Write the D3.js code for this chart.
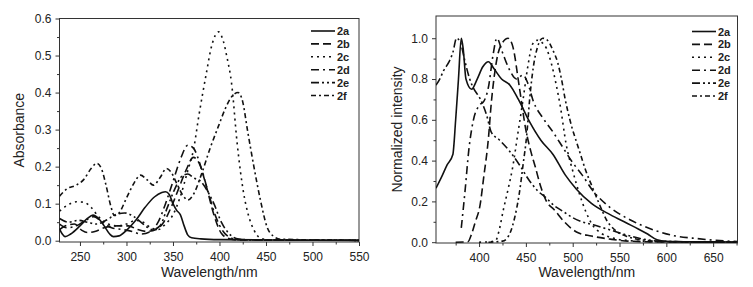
<!DOCTYPE html>
<html>
<head>
<meta charset="utf-8">
<script src="https://cdn.jsdelivr.net/npm/d3@7"></script>
<style>
  body { margin: 0; background: #fff; }
  text { font-family: Arial, "Liberation Sans", sans-serif; fill: #222; }
</style>
</head>
<body>
<div id="chart"></div>
<script>
// series names and line styles (legend order)
var seriesNames = ['2a', '2b', '2c', '2d', '2e', '2f'];
var dashes = ['none', '8,4', '2,4', '8,4,2,4', '8,3,2,3,2,3', '5,3,2,3'];

// absorption spectra [wavelength nm, absorbance]
var abs2a = [[228,0.032],[231,0.018],[234,0.011],[240,0.018],[250,0.04],[258,0.06],[264,0.069],[270,0.06],[276,0.04],[282,0.018],[286,0.011],[292,0.013],[300,0.028],[310,0.055],[320,0.09],[330,0.118],[338,0.13],[342,0.132],[346,0.125],[350,0.1],[354,0.082],[358,0.07],[362,0.04],[366,0.015],[370,0.008],[380,0.005],[400,0.003],[450,0.002],[550,0.001]];
var abs2b = [[228,0.03],[234,0.04],[244,0.045],[252,0.028],[258,0.022],[266,0.025],[276,0.035],[290,0.04],[302,0.04],[312,0.03],[322,0.025],[332,0.03],[340,0.05],[348,0.09],[356,0.14],[364,0.19],[372,0.225],[378,0.21],[386,0.146],[394,0.07],[402,0.02],[410,0.006],[420,0.002],[550,0.001]];
var abs2c = [[228,0.08],[236,0.095],[246,0.105],[254,0.104],[262,0.09],[270,0.065],[280,0.045],[290,0.04],[300,0.045],[310,0.055],[318,0.05],[326,0.035],[334,0.03],[342,0.045],[350,0.07],[358,0.12],[366,0.19],[372,0.245],[378,0.34],[385,0.44],[392,0.53],[399,0.564],[404,0.54],[408,0.496],[413,0.425],[419,0.263],[426,0.128],[431,0.07],[437,0.029],[444,0.007],[455,0.002],[550,0.001]];
var abs2d = [[228,0.045],[236,0.035],[246,0.04],[256,0.055],[265,0.065],[274,0.05],[284,0.035],[296,0.03],[306,0.025],[316,0.018],[326,0.025],[334,0.05],[342,0.1],[350,0.16],[358,0.22],[366,0.258],[372,0.25],[380,0.2],[388,0.13],[396,0.065],[404,0.025],[412,0.008],[420,0.003],[550,0.001]];
var abs2e = [[228,0.06],[238,0.05],[248,0.055],[258,0.05],[268,0.045],[278,0.055],[288,0.07],[298,0.075],[308,0.065],[318,0.045],[328,0.03],[336,0.04],[344,0.09],[352,0.14],[360,0.175],[366,0.18],[372,0.17],[380,0.16],[388,0.13],[394,0.1],[402,0.05],[410,0.02],[418,0.006],[430,0.002],[550,0.001]];
var abs2f = [[228,0.12],[236,0.14],[246,0.15],[254,0.165],[262,0.195],[268,0.209],[273,0.195],[278,0.15],[283,0.095],[287,0.068],[292,0.075],[300,0.115],[308,0.155],[315,0.177],[322,0.165],[329,0.15],[336,0.17],[343,0.195],[348,0.185],[354,0.155],[360,0.125],[366,0.11],[372,0.125],[380,0.175],[390,0.25],[399,0.31],[406,0.355],[412,0.385],[420,0.4],[425,0.375],[430,0.3],[437,0.2],[444,0.11],[451,0.038],[458,0.012],[466,0.004],[550,0.001]];

// emission spectra [wavelength nm, normalized intensity]
var em2a = [[354,0.265],[360,0.32],[366,0.38],[372,0.43],[375,0.6],[378,0.8],[381,1.0],[383,0.95],[386,0.8],[392,0.75],[398,0.8],[404,0.86],[410,0.885],[416,0.85],[424,0.8],[433,0.77],[442,0.7],[454,0.59],[466,0.5],[479,0.43],[492,0.33],[504,0.26],[520,0.19],[540,0.135],[557,0.095],[570,0.065],[580,0.04],[590,0.012],[600,0.004],[620,0.002],[676,0.001]];
var em2b = [[375,0.0],[388,0.002],[392,0.04],[396,0.1],[401,0.18],[405,0.32],[410,0.51],[413,0.68],[417,0.84],[420,0.92],[424,0.97],[431,1.0],[436,0.96],[443,0.76],[450,0.55],[455,0.45],[460,0.37],[466,0.27],[472,0.2],[480,0.16],[491,0.1],[504,0.05],[520,0.03],[540,0.015],[560,0.005],[600,0.001],[676,0.0]];
var em2c = [[400,0.0],[412,0.002],[418,0.01],[421,0.05],[426,0.16],[431,0.26],[436,0.37],[441,0.52],[447,0.7],[452,0.86],[457,0.97],[462,0.99],[467,0.98],[472,0.95],[477,0.88],[482,0.78],[487,0.66],[493,0.48],[500,0.35],[507,0.24],[514,0.15],[521,0.085],[530,0.045],[543,0.02],[560,0.008],[580,0.003],[676,0.001]];
var em2d = [[381,0.07],[385,0.25],[389,0.45],[394,0.6],[400,0.67],[405,0.69],[410,0.76],[415,0.92],[419,1.0],[425,0.93],[432,0.85],[440,0.8],[447,0.82],[452,0.78],[458,0.69],[468,0.61],[479,0.54],[486,0.49],[500,0.39],[510,0.33],[522,0.25],[540,0.17],[557,0.12],[575,0.08],[593,0.05],[610,0.03],[628,0.02],[650,0.01],[676,0.003]];
var em2e = [[354,0.77],[358,0.8],[362,0.84],[368,0.885],[372,0.93],[376,1.0],[380,0.98],[385,0.885],[390,0.8],[394,0.755],[401,0.705],[408,0.624],[413,0.54],[422,0.5],[433,0.444],[443,0.38],[454,0.3],[463,0.25],[472,0.216],[480,0.18],[490,0.15],[500,0.12],[510,0.1],[522,0.085],[540,0.06],[557,0.036],[575,0.015],[593,0.005],[620,0.002],[676,0.001]];
var em2f = [[410,0.0],[425,0.005],[430,0.02],[433,0.044],[438,0.12],[443,0.24],[447,0.38],[451,0.53],[454,0.7],[458,0.86],[462,0.95],[468,1.0],[473,0.99],[479,0.94],[484,0.88],[488,0.8],[492,0.7],[497,0.6],[507,0.45],[514,0.35],[521,0.27],[530,0.17],[536,0.11],[545,0.06],[560,0.025],[580,0.008],[600,0.003],[676,0.001]];

// tick values
var absXTicks = [250, 300, 350, 400, 450, 500, 550];
var absXMinor = [275, 325, 375, 425, 475, 525];
var absYTicks = [0, 0.1, 0.2, 0.3, 0.4, 0.5, 0.6];
var absYMinor = [0.05, 0.15, 0.25, 0.35, 0.45, 0.55];
var emXTicks = [400, 450, 500, 550, 600, 650];
var emXMinor = [375, 425, 475, 525, 575, 625, 675];
var emYTicks = [0, 0.2, 0.4, 0.6, 0.8, 1.0];
var emYMinor = [0.1, 0.3, 0.5, 0.7, 0.9];

var svg = d3.select('#chart').append('svg')
    .attr('width', 753)
    .attr('height', 287);

function drawPanel(p) {
    var x = d3.scaleLinear().domain(p.xDomain).range([p.left, p.right]);
    var y = d3.scaleLinear().domain(p.yDomain).range([p.bottom, p.top]);
    var g = svg.append('g');

    // major + minor ticks, outward
    g.append('g').attr('transform', 'translate(0,' + p.bottom + ')')
        .call(d3.axisBottom(x).tickValues(p.xTicks).tickSize(4).tickPadding(6).tickFormat(d3.format('d')));
    g.append('g').attr('transform', 'translate(0,' + p.bottom + ')')
        .call(d3.axisBottom(x).tickValues(p.xMinor).tickSize(2.5).tickFormat(''));
    g.append('g').attr('transform', 'translate(' + p.left + ',0)')
        .call(d3.axisLeft(y).tickValues(p.yTicks).tickSize(4).tickPadding(4).tickFormat(d3.format('.1f')));
    g.append('g').attr('transform', 'translate(' + p.left + ',0)')
        .call(d3.axisLeft(y).tickValues(p.yMinor).tickSize(2.5).tickFormat(''));
    g.selectAll('.domain').remove();
    g.selectAll('.tick line').attr('stroke', '#333');
    g.selectAll('.tick text').style('font-size', '12px').attr('fill', '#222');

    // frame
    g.append('rect')
        .attr('x', p.left).attr('y', p.top)
        .attr('width', p.right - p.left).attr('height', p.bottom - p.top)
        .attr('fill', 'none').attr('stroke', '#333').attr('stroke-width', 1);

    var line = d3.line()
        .x(function (d) { return x(d[0]); })
        .y(function (d) { return y(d[1]); })
        .curve(d3.curveMonotoneX);

    var clipId = 'clip' + p.id;
    g.append('clipPath').attr('id', clipId).append('rect')
        .attr('x', p.left).attr('y', p.top)
        .attr('width', p.right - p.left).attr('height', p.bottom - p.top);

    p.series.forEach(function (s, i) {
        g.append('path')
            .attr('clip-path', 'url(#' + clipId + ')')
            .attr('fill', 'none')
            .attr('stroke', '#111')
            .attr('stroke-width', 1.6)
            .attr('stroke-dasharray', dashes[i])
            .attr('d', line(s));
    });

    // legend
    seriesNames.forEach(function (name, i) {
        var ly = p.legendY + i * 12.9;
        g.append('line')
            .attr('x1', p.legendX).attr('x2', p.legendX + 24)
            .attr('y1', ly).attr('y2', ly)
            .attr('stroke', '#111').attr('stroke-width', 1.6)
            .attr('stroke-dasharray', dashes[i]);
        g.append('text')
            .attr('x', p.legendX + 26).attr('y', ly + 4)
            .style('font-size', '11px').style('font-weight', 'bold')
            .text(name);
    });

    // axis titles
    g.append('text')
        .attr('x', (p.left + p.right) / 2).attr('y', 277)
        .attr('text-anchor', 'middle').style('font-size', '14px')
        .text('Wavelength/nm');
    g.append('text')
        .attr('transform', 'translate(' + p.yTitleX + ',' + (p.top + p.bottom) / 2 + ') rotate(-90)')
        .attr('text-anchor', 'middle').style('font-size', '14px')
        .text(p.yTitle);
}

drawPanel({
    id: 'abs', left: 59.5, right: 359, top: 18.5, bottom: 242,
    xDomain: [228, 550], yDomain: [-0.0035, 0.6],
    xTicks: absXTicks, xMinor: absXMinor, yTicks: absYTicks, yMinor: absYMinor,
    series: [abs2a, abs2b, abs2c, abs2d, abs2e, abs2f],
    legendX: 311, legendY: 31, yTitle: 'Absorbance', yTitleX: 24
});

drawPanel({
    id: 'em', left: 436, right: 737.5, top: 16, bottom: 243,
    xDomain: [354, 676], yDomain: [-0.004, 1.109],
    xTicks: emXTicks, xMinor: emXMinor, yTicks: emYTicks, yMinor: emYMinor,
    series: [em2a, em2b, em2c, em2d, em2e, em2f],
    legendX: 692, legendY: 31.5, yTitle: 'Normalized intensity', yTitleX: 402
});
</script>
</body>
</html>
